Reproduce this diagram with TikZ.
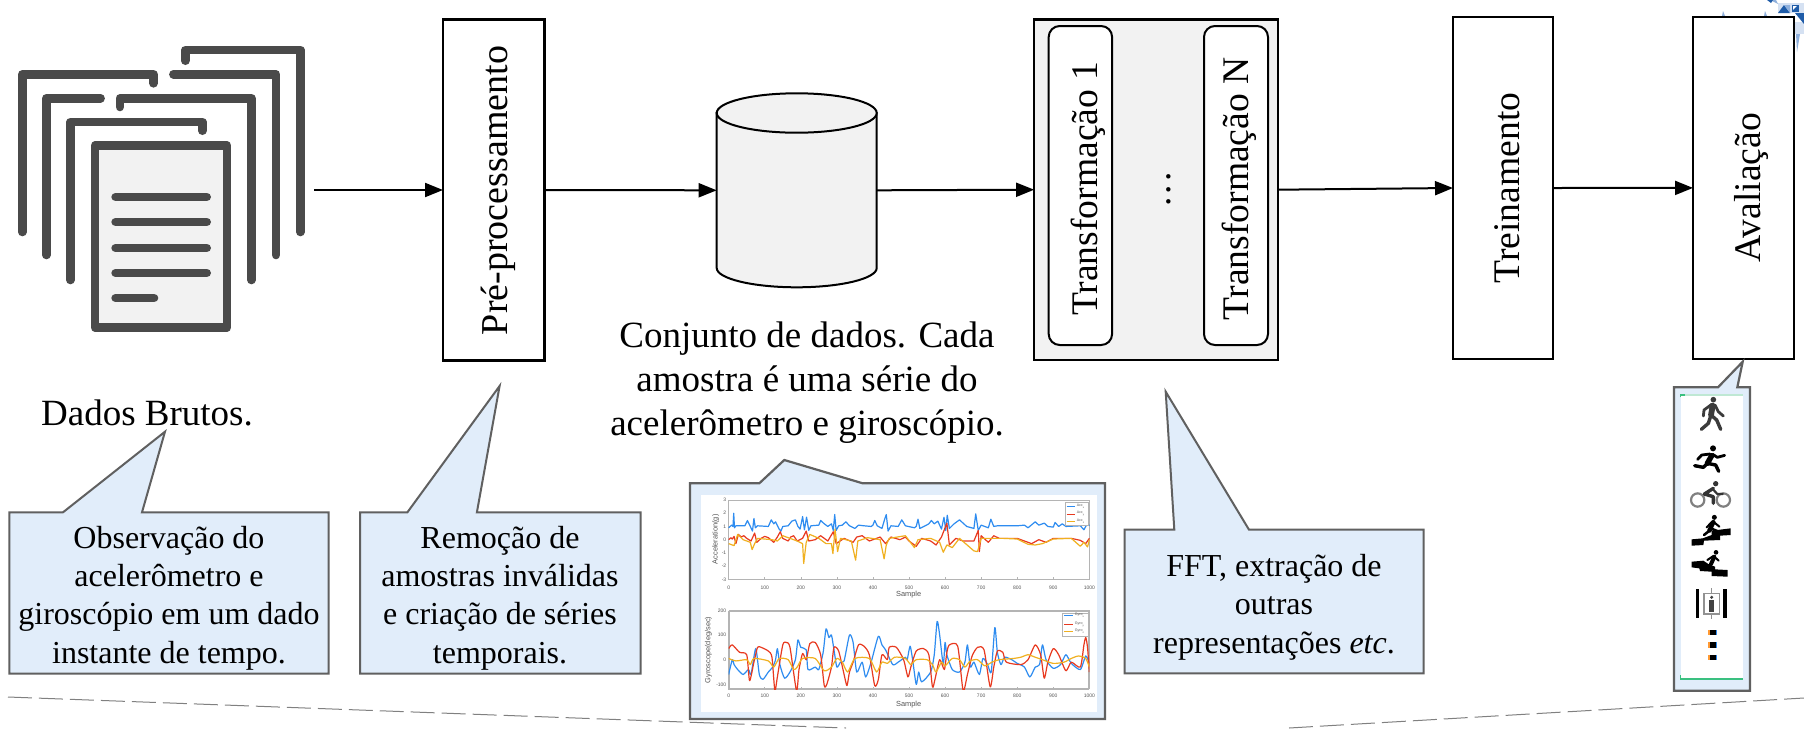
\documentclass[tikz,border=0pt]{standalone}
\usepackage{fontspec}
\setmainfont{Liberation Serif}
\setsansfont{Liberation Sans}
\usetikzlibrary{arrows.meta}
\definecolor{calloutfill}{HTML}{E1EDFA}
\definecolor{calloutline}{HTML}{606060}
\definecolor{icon}{HTML}{4A4A4A}
\definecolor{softgray}{HTML}{F2F2F2}
\definecolor{pblue}{HTML}{2E8CF0}
\definecolor{pred}{HTML}{E8391F}
\definecolor{pyel}{HTML}{F0B020}
\definecolor{axisgray}{HTML}{B4B4B4}
\definecolor{ticktext}{HTML}{555555}
\tikzset{
  boxnode/.style={draw=black,line width=1.2pt,fill=white,inner sep=0pt,outer sep=0pt},
  rlabel/.style={rotate=90,anchor=base,font=\fontsize{18.8}{21}\selectfont,inner sep=0pt},
  flow/.style={line width=1pt,-{Triangle[length=9pt,width=7pt]}},
  doc/.style={draw=icon,line width=4.3pt,line cap=round,line join=round},
  callout/.style={draw=calloutline,fill=calloutfill,line width=1pt,line join=miter},
  ctext/.style={align=center,font=\fontsize{16}{19.2}\selectfont,inner sep=0pt},
  mtext/.style={align=center,font=\fontsize{18.5}{22}\selectfont,inner sep=0pt},
  ticklab/.style={font=\sffamily\fontsize{2.5}{3}\selectfont,text=ticktext,inner sep=0pt},
  axlab/.style={font=\sffamily\fontsize{3.7}{4.4}\selectfont,text=ticktext,inner sep=0pt},
  leglab/.style={font=\sffamily\fontsize{1.8}{2}\selectfont,text=ticktext,inner sep=0pt,anchor=west},
  trace/.style={line width=0.6pt,line join=round},
  pic/.style={line cap=round,line join=round,draw=#1},
  pic/.default={black},
}
\begin{document}
\begin{tikzpicture}[x=0.5pt,y=-0.5pt]
\useasboundingbox (0,0) rectangle (1804,729);
\fill[white] (0,0) rectangle (1804,729);

% top-right fragment
\definecolor{fragA}{HTML}{1F5CA8}
\definecolor{fragB}{HTML}{8FB0DC}
\definecolor{fragC}{HTML}{D5E1F2}
\fill[fragC] (1778,3) rectangle (1804,13);
\fill[fragC] (1795,22) rectangle (1804,34);
\fill[fragB] (1770,0) -- (1776,0) -- (1778,4) -- cycle;
\fill[fragA] (1767,0) -- (1773,0) -- (1771,3) -- cycle;
\fill[fragA] (1778,13) -- (1790,13) -- (1784,5) -- cycle;
\fill[fragB] (1784,5) -- (1790,5) -- (1790,13) -- cycle;
\fill[fragA] (1795,13) -- (1804,13) -- (1804,24) -- cycle;
\fill[white,draw=fragA,line width=.4pt] (1792,5) rectangle (1798,11);
\fill[fragA] (1792,11) -- (1798,5) -- (1798,11) -- cycle;
\fill[fragB] (1723,11) -- (1725,16) -- (1722,16) -- cycle;
\fill[fragB] (1765,11) -- (1767,16) -- (1764,16) -- cycle;
\fill[fragB] (1796,34) -- (1800,34) -- (1797,52) -- cycle;

% document stack
\draw[doc] (185.2,60.7) -- (185.2,50) -- (300.4,50) -- (300.4,232);
\draw[doc] (22.2,232) -- (22.2,74.3) -- (153.5,74.3) -- (153.5,83.3);
\draw[doc] (173.4,74.3) -- (276,74.3) -- (276,255);
\draw[doc] (46.3,255) -- (46.3,98.3) -- (100.6,98.3);
\draw[doc] (119.8,107) -- (119.8,98.3) -- (251.4,98.3) -- (251.4,280);
\draw[doc] (70.4,280) -- (70.4,122) -- (202.4,122) -- (202.4,130.7);
\draw[doc,fill=softgray] (95,145.5) rectangle (227,327.5);
\foreach \yy in {197,222,248,273} \draw[doc] (115.6,\yy) -- (206.7,\yy);
\draw[doc] (115.6,298) -- (154,298);

% dashed floor lines
\draw[gray,line width=.5pt,dash pattern=on 12pt off 3.5pt] (8,697) -- (846,728);
\draw[gray,line width=.5pt,dash pattern=on 12pt off 3.5pt] (1289,728) -- (1804,698);

% flow boxes
\coordinate (docout) at (314,190);
\node[boxnode,minimum width=50.8pt,minimum height=170.5pt] (pre) at (493.8,190) {};
\node[rlabel,font=\fontsize{19}{21}\selectfont] (pretxt) at (507,190.5) {Pré-processamento};

% cylinder
\node[minimum width=80pt,minimum height=97pt,inner sep=0pt,outer sep=0pt] (cyl) at (796.7,190.3) {};
\draw[black,fill=softgray,line width=1pt] (716.7,113) -- (716.7,268) .. controls (716.7,278.6) and (752.7,287.3) .. (796.7,287.3) .. controls (840.7,287.3) and (876.7,278.6) .. (876.7,268) -- (876.7,113) -- cycle;
\draw[black,fill=softgray,line width=1pt] (796.7,113) ellipse [x radius=80,y radius=19.7];

% transformation group
\node[boxnode,fill=softgray,line width=1.1pt,minimum width=121.8pt,minimum height=170.3pt] (trf) at (1155.9,189.7) {};
\node[draw=black,fill=white,line width=1pt,rounded corners=5.5pt,minimum width=31.7pt,minimum height=159.5pt,inner sep=0pt,outer sep=0pt] (t1) at (1080.4,185.5) {};
\node[draw=black,fill=white,line width=1pt,rounded corners=5.5pt,minimum width=32pt,minimum height=159.5pt,inner sep=0pt,outer sep=0pt] (tn) at (1236,185.5) {};
\node[rlabel] (t1txt) at (1097,188.7) {Transformação 1};
\node[rlabel] (tntxt) at (1248,188.7) {Transformação N};
\node[rlabel] (tdots) at (1170,189.5) {.\kern1.6pt.\kern1.6pt.};

\node[boxnode,minimum width=50pt,minimum height=171pt] (train) at (1503,188) {};
\node[rlabel] (traintxt) at (1519,188) {Treinamento};
\node[boxnode,minimum width=50.5pt,minimum height=171.2pt] (aval) at (1743.5,187.9) {};
\node[rlabel] (avaltxt) at (1760,187.9) {Avaliação};

% connectors
\draw[flow] (docout) -- (pre.west);
\draw[flow] (pre.east) -- (cyl.west);
\draw[flow] (cyl.east) -- (trf.west);
\draw[flow] (trf.east) -- (train.west);
\draw[flow] (train.east) -- (aval.west);

% free labels
\node[mtext] (brutos) at (147,413) {Dados Brutos.};
\node[mtext] (conj) at (807,383) {Conjunto de dados. Cada\\amostra é uma série do\\acelerômetro e giroscópio.};

% callouts
\draw[callout] (9.3,512.3) -- (63,512.3) -- (165,431.7) -- (142,512.3) -- (328.7,512.3) -- (328.7,673.7) -- (9.3,673.7) -- cycle;
\node[ctext] (c1) at (169,598) {Observação do\\acelerômetro e\\giroscópio em um dado\\instante de tempo.};
\draw[callout] (360,512.3) -- (407.4,512.3) -- (499.6,386) -- (476.9,512.3) -- (640.6,512.3) -- (640.6,673.7) -- (360,673.7) -- cycle;
\node[ctext] (c2) at (500,598) {Remoção de\\amostras inválidas\\e criação de séries\\temporais.};
\draw[callout] (1124.7,529.7) -- (1174.3,529.7) -- (1165.7,391.7) -- (1249,529.7) -- (1423.7,529.7) -- (1423.7,673.3) -- (1124.7,673.3) -- cycle;
\node[ctext] (c4) at (1274,607) {FFT, extração de\\outras\\representações \textit{etc}.};

% plot callout
\draw[callout,line width=1.1pt] (690,483.3) -- (759.3,483.3) -- (784.3,460) -- (862.7,483.3) -- (1105,483.3) -- (1105,719) -- (690,719) -- cycle;
\fill[white] (701,495) rectangle (1097.3,711.7);
\begin{scope}[shift={(670,450)},x=0.16667pt,y=-0.16667pt]
  \draw[axisgray,line width=.5pt] (176,150) rectangle (1258,388);
  \draw[axisgray,line width=.9pt] (176,482) -- (1258,482) -- (1258,718);
  \draw[axisgray,line width=.9pt] (176,482) -- (176,718) -- (1258,718);
  \foreach \t/\l in {0/0,1/100,2/200,3/300,4/400,5/500,6/600,7/700,8/800,9/900,10/1000}{
    \draw[axisgray,line width=.3pt] ({176+108.2*\t},388) -- ({176+108.2*\t},381);
    \draw[axisgray,line width=.3pt] ({176+108.2*\t},718) -- ({176+108.2*\t},711);
    \node[ticklab] (xa\t) at ({176+108.2*\t},412) {\l};
    \node[ticklab] (xb\t) at ({176+108.2*\t},738) {\l};
  }
  \foreach \v/\l in {3/3,2/2,1/1,0/0,-1/-1,-2/-2,-3/-3}{
    \node[ticklab,anchor=east] (ya\v) at (170,{269-39.67*\v}) {\l};
  }
  \foreach \v/\l in {200/200,100/100,0/0,-100/-100}{
    \node[ticklab,anchor=east] (yb\v) at (170,{629-0.74*\v}) {\l};
  }
  \node[axlab] (xla) at (716,435) {Sample};
  \node[axlab] (xlb) at (716,765) {Sample};
  \node[axlab,rotate=90] (yla) at (137,268) {Acceleration(g)};
  \node[axlab,rotate=90] (ylb) at (115,600) {Gyroscope(deg/sec)};
  % acceleration
  \begin{scope}[shift={(176,269)},x=0.18033pt,y=6.6117pt]
    \draw[trace,pblue] plot coordinates {(0,0.9)(8,1.1)(12,1.0)(14,2)(16,0.9)(20,1.05)(45,1.05)(52,1.45)(60,1)(66,0.65)(70,1.6)(74,0.9)(80,1.05)(110,1)(118,1.5)(125,1.2)(130,1.35)(140,0.8)(145,0.65)(150,1)(165,1.05)(175,1.4)(185,1.5)(192,1)(198,0.8)(205,1.75)(210,0.75)(216,1.7)(222,0.7)(228,1.05)(250,1.1)(255,1.45)(265,1.2)(275,1)(285,1.2)(290,0.7)(294,1.9)(298,0.7)(305,1.05)(315,1.1)(325,1.35)(335,1.05)(350,0.85)(360,1.1)(375,1.05)(395,1)(400,1.1)(405,1.45)(412,1.05)(425,0.85)(432,1.5)(437,1.9)(442,0.65)(450,1.05)(470,1)(480,1.5)(490,1.05)(515,0.9)(520,1)(525,1.55)(530,0.85)(545,1.05)(555,1.2)(562,1.45)(570,1.2)(580,1.4)(590,0.8)(597,1.7)(602,0.7)(606,1.85)(612,0.85)(625,1.2)(640,1.5)(650,1.25)(660,1)(680,0.85)(685,1.95)(692,0.7)(700,1.1)(720,0.9)(727,1.55)(735,1)(745,1.05)(800,1.05)(820,1.1)(830,0.9)(850,1.35)(860,1.1)(875,1.25)(885,1)(900,0.95)(905,1.3)(915,1)(925,1.2)(935,1)(975,1.05)(985,0.75)(990,1)(995,1.25)(1000,1.05)};
    \draw[trace,pred] plot coordinates {(0,0)(6,0.15)(10,0.05)(15,0.25)(20,-0.3)(27,0.4)(35,0.2)(42,0.3)(50,0.1)(62,-0.1)(72,0.5)(78,-0.2)(90,0.1)(100,0.25)(110,0.15)(125,-0.2)(135,0.2)(143,0.6)(150,0.1)(165,-0.1)(172,0.2)(180,0.3)(190,-0.1)(205,0.1)(215,0.65)(222,-0.1)(240,0)(255,0.3)(265,0.1)(275,-0.1)(290,0.6)(298,-0.3)(320,0.1)(345,-0.2)(355,0.2)(370,0.3)(390,-0.1)(410,0.1)(420,0.2)(435,-0.3)(450,0.2)(475,0)(490,0.2)(500,-0.1)(520,-0.5)(535,0.1)(560,-0.1)(575,-0.4)(590,0.2)(605,1.25)(612,-0.4)(630,0.1)(650,-0.1)(680,-0.1)(692,0.7)(695,-0.9)(700,0.3)(720,-0.2)(735,0.3)(750,0.1)(800,0.1)(820,-0.1)(840,-0.3)(860,0)(880,-0.2)(900,0.1)(950,0.1)(975,-0.05)(990,-0.3)(1000,0.1)};
    \draw[trace,pyel] plot coordinates {(0,-0.3)(15,-0.45)(25,0.4)(40,0)(60,-0.2)(65,-0.75)(72,-0.3)(80,0.1)(120,0)(135,-0.1)(150,0.3)(170,0.1)(190,-0.1)(205,-0.3)(208,-1.8)(215,-0.2)(225,0.4)(250,0.1)(270,-0.3)(285,-0.3)(289,-1.05)(295,0.8)(302,-0.9)(310,0.1)(340,-0.1)(352,-1.55)(358,-0.1)(385,0.15)(420,0)(431,-1.45)(437,-0.4)(445,0.1)(490,0.3)(515,-0.6)(525,0)(560,0.1)(585,-0.2)(595,-0.95)(605,-0.4)(620,-0.6)(640,0.1)(680,-0.85)(690,-0.9)(700,0.1)(730,0.1)(760,0.1)(800,0.05)(830,-0.35)(850,-0.4)(870,-0.3)(900,0.05)(950,0.1)(975,-0.5)(985,-0.2)(995,-0.55)(1000,0)};
  \end{scope}
  % gyroscope
  \begin{scope}
  \clip (176,482) rectangle (1258,718);
  \begin{scope}[shift={(176,629)},x=0.18033pt,y=0.12333pt]
    \draw[trace,pblue] plot[smooth,tension=.4] coordinates {(0,-60)(10,0)(15,-20)(25,-40)(40,-60)(55,-40)(62,-60)(75,45)(85,-60)(95,-80)(110,-50)(122,-30)(130,0)(135,45)(142,-20)(155,-75)(170,-50)(185,0)(192,80)(200,50)(215,40)(220,-40)(240,-30)(250,-40)(262,30)(270,125)(278,90)(285,100)(292,40)(300,-30)(310,-10)(320,-5)(335,100)(345,70)(355,-50)(370,-10)(380,-70)(395,-10)(415,95)(425,60)(435,40)(455,-20)(470,-10)(490,10)(495,0)(503,55)(510,0)(520,-100)(527,-50)(535,-90)(560,-50)(570,20)(578,155)(585,100)(595,-20)(600,70)(605,20)(620,-40)(640,-50)(655,-10)(662,60)(670,-30)(680,-10)(695,-60)(705,5)(718,-20)(728,-50)(738,130)(745,30)(755,-20)(765,10)(785,0)(800,-15)(820,-30)(835,-70)(850,-30)(862,-20)(870,60)(880,0)(900,-35)(920,-20)(935,20)(950,-15)(975,-40)(990,15)(1000,-15)};
    \draw[trace,pred] plot[smooth,tension=.4] coordinates {(0,45)(10,60)(30,30)(50,20)(58,-85)(70,-10)(80,50)(90,50)(110,35)(120,10)(128,-125)(135,-70)(150,60)(160,70)(170,50)(188,-125)(195,-40)(205,25)(215,0)(225,65)(240,70)(255,20)(265,-105)(272,-100)(285,-30)(292,50)(305,35)(320,-60)(328,-105)(335,-50)(345,-10)(360,60)(375,55)(390,20)(405,-105)(415,-80)(425,20)(440,0)(445,50)(465,50)(485,0)(497,-70)(505,-30)(520,35)(540,45)(555,20)(565,-110)(572,-80)(585,0)(598,-40)(605,30)(612,60)(635,55)(650,-125)(662,-60)(675,15)(690,50)(708,40)(725,-110)(735,-30)(745,35)(760,30)(770,-10)(810,-20)(830,0)(850,60)(865,20)(875,-75)(885,-10)(900,45)(915,20)(935,-45)(950,-10)(975,-30)(985,60)(990,90)(995,50)(1000,-50)};
    \draw[trace,pyel] plot[smooth,tension=.4] coordinates {(0,5)(20,-5)(50,0)(60,-20)(70,5)(110,-5)(125,-30)(140,5)(165,0)(180,-40)(190,-30)(205,5)(240,5)(265,-45)(285,-30)(300,5)(315,-10)(330,-50)(350,5)(390,5)(410,-50)(425,-10)(440,-15)(460,10)(490,5)(505,-20)(520,0)(550,0)(565,-20)(575,-50)(590,-10)(600,-25)(620,5)(640,0)(655,-30)(670,-5)(690,0)(710,-25)(730,-10)(750,0)(790,5)(810,10)(830,20)(850,10)(870,0)(900,-15)(930,-10)(950,5)(970,15)(990,5)(1000,-30)};
  \end{scope}
  \end{scope}
  % legends
  \draw[axisgray,fill=white,line width=.3pt] (1185,158) rectangle (1255,225);
  \draw[pblue,line width=.5pt] (1190,170) -- (1215,170);
  \draw[pred,line width=.5pt] (1190,192) -- (1215,192);
  \draw[pyel,line width=.5pt] (1190,214) -- (1215,214);
  \node[leglab] (la1) at (1219,170) {Acc\textsubscript{x}};
  \node[leglab] (la2) at (1219,192) {Acc\textsubscript{y}};
  \node[leglab] (la3) at (1219,214) {Acc\textsubscript{z}};
  \draw[axisgray,fill=white,line width=.3pt] (1178,490) rectangle (1255,558);
  \draw[pblue,line width=.5pt] (1183,497) -- (1210,497);
  \draw[pred,line width=.5pt] (1183,524) -- (1210,524);
  \draw[pyel,line width=.5pt] (1183,545) -- (1210,545);
  \node[leglab] (lb1) at (1213,497) {Gyro\textsubscript{x}};
  \node[leglab] (lb2) at (1213,524) {Gyro\textsubscript{y}};
  \node[leglab] (lb3) at (1213,545) {Gyro\textsubscript{z}};
\end{scope}

% activity callout
\draw[callout,line width=1.1pt] (1674,387.3) -- (1718,387.3) -- (1742.7,361.7) -- (1737.3,387.3) -- (1750,387.3) -- (1750,690.7) -- (1674,690.7) -- cycle;
\fill[white] (1680.7,395) rectangle (1743.3,679.3);
\begin{scope}[shift={(1600,340)},x=0.16667pt,y=-0.16667pt]
  \definecolor{gline}{HTML}{3AC080}
  \definecolor{gsoft}{HTML}{BFE8D4}
  \draw[gsoft,line width=.6pt] (242,165) -- (430,165);
  \draw[gline,line width=.8pt] (242,172) -- (242,165) -- (256,165);
  \draw[gline,line width=.8pt] (242,1005) -- (242,1017) -- (430,1017);
  % walker
  \fill[icon!80!black] (340,179) circle (8.5);
  \draw[pic=icon!80!black,line width=2.9pt] (338,197) -- (333,225);
  \draw[pic=icon!80!black,line width=1.7pt] (333,225) -- (350,240) -- (362,268);
  \draw[pic=icon!80!black,line width=1.7pt] (333,225) -- (325,250) -- (304,268);
  \draw[pic=icon!80!black,line width=1.4pt] (335,193) -- (312,210) -- (310,228);
  \draw[pic=icon!80!black,line width=1.4pt] (345,195) -- (355,215) -- (370,228);
  % runner
  \fill[black] (339,325) circle (9);
  \draw[pic=black,line width=2.7pt] (335,347) -- (322,370);
  \draw[pic=black,line width=1.4pt] (338,343) -- (352,352) -- (374,346);
  \draw[pic=black,line width=1.4pt] (330,342) -- (305,345) -- (293,358);
  \draw[pic=black,line width=1.7pt] (322,370) -- (347,375) -- (356,394);
  \draw[pic=black,line width=1.7pt] (322,370) -- (310,382) -- (284,377);
  % cyclist
  \draw[icon!70,line width=1.1pt] (293,480) circle (20);
  \draw[icon!70,line width=1.1pt] (370,480) circle (20);
  \fill[icon!70!black] (347,431) circle (8);
  \draw[pic=icon!70!black,line width=1.7pt] (340,445) -- (313,462) -- (340,470) -- (340,490);
  \draw[pic=icon!70!black,line width=1.1pt] (338,447) -- (352,462) -- (368,462);
  % stairs up
  \fill[black] (275,617) -- (275,598) -- (308,595) -- (335,585) -- (335,572) -- (392,565) -- (392,585) -- (360,587) -- (360,600) -- (312,602) -- (310,615) -- cycle;
  \fill[black] (343,532) circle (7.5);
  \draw[pic=black,line width=2.2pt] (340,546) -- (328,572);
  \draw[pic=black,line width=1.3pt] (328,572) -- (312,585);
  \draw[pic=black,line width=1.3pt] (332,565) -- (356,575);
  \draw[pic=black,line width=1pt] (340,545) -- (358,560);
  \draw[pic=black,line width=1pt] (336,545) -- (320,562);
  % stairs down
  \fill[black] (275,665) -- (310,662) -- (325,672) -- (345,680) -- (345,688) -- (383,690) -- (383,710) -- (335,708) -- (335,695) -- (300,693) -- (298,685) -- (275,682) -- cycle;
  \fill[black] (348,637) circle (7);
  \draw[pic=black,line width=2pt] (343,650) -- (333,672);
  \draw[pic=black,line width=1pt] (343,650) -- (356,662);
  \draw[pic=black,line width=1pt] (340,648) -- (322,660);
  % lift
  \fill[black] (288,748) rectangle (298,833);
  \fill[black] (370,748) rectangle (380,833);
  \draw[icon!60,line width=.6pt] (312,760) rectangle (358,822);
  \draw[icon!60,line width=.4pt] (335,745) -- (335,760);
  \draw[icon!60,line width=.4pt] (335,822) -- (335,836);
  \fill[icon!90!black] (335,772) circle (5);
  \fill[icon!90!black] (328,780) rectangle (342,815);
  % dots
  \foreach \yy in {877,915,953}{
    \fill[orange!80] (324,{\yy-8}) rectangle (332,{\yy+8});
    \fill[pblue] (346,{\yy-8}) rectangle (352,{\yy+8});
    \fill[black] (330,{\yy-8}) rectangle (348,{\yy+8});
  }
\end{scope}
\end{tikzpicture}
\end{document}
